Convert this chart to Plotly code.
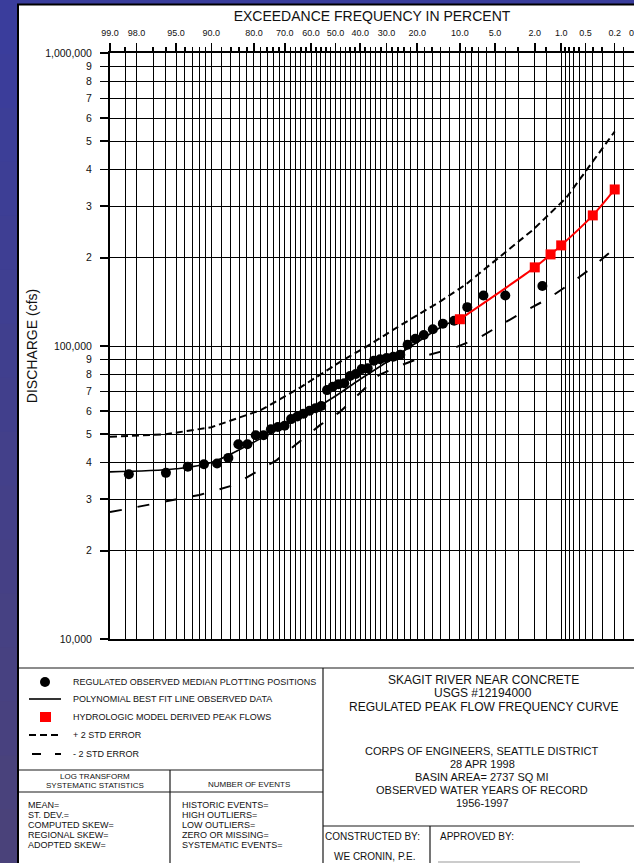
import plotly.graph_objects as go
from statistics import NormalDist

# ---------------- data ----------------
# observed (regulated) peaks, median plotting positions: exceedance % and discharge cfs
obs_exceed = [1.65, 4.01, 6.37, 8.73, 11.08, 13.44, 15.80, 18.16, 20.52, 22.88,
              25.24, 27.59, 29.95, 32.31, 34.67, 37.03, 39.39, 41.75, 44.10, 46.46,
              48.82, 51.18, 53.54, 55.90, 58.25, 60.61, 62.97, 65.33, 67.69, 70.05,
              72.41, 74.76, 77.12, 79.48, 81.84, 84.20, 86.56, 88.92, 91.27, 93.63,
              95.99, 98.35]
obs_flow = [160300, 148800, 148800, 135700, 122000, 119200, 114000, 109100, 105900, 101000,
            93400, 91900, 91000, 90100, 89100, 83900, 83400, 80200, 79000, 74600,
            74000, 72600, 70700, 62400, 61300, 60100, 58700, 57500, 56300, 53400,
            52900, 52000, 49600, 49600, 46200, 46200, 41500, 39700, 39500, 38700,
            36900, 36500]

# polynomial best fit line (observed data)
fit_exceed = [99, 95, 90, 80, 70, 60, 50, 40, 30, 20, 13, 10]
fit_flow = [37200, 38100, 40000, 47000, 53500, 60000, 67500, 77000, 88000, 103000, 118000, 123400]

# hydrologic model derived peak flows
model_exceed = [10, 2, 1.333, 1, 0.4, 0.2]
model_flow = [123400, 185500, 205400, 220500, 279100, 342200]

# + 2 std error
upper_exceed = [99, 96, 90, 78, 64, 48, 37.5, 25, 14, 9, 4.5, 2.1, 0.87, 0.2]
upper_flow = [49000, 50000, 52800, 60400, 72400, 88400, 99500, 118000, 142000, 162000,
              201900, 249000, 320300, 539700]

# - 2 std error
lower_exceed = [99, 92, 85.4, 72.8, 56.4, 48.2, 32.8, 24.8, 17.3, 11.3, 7.2, 4.43, 2.62,
                1.45, 0.8, 0.43, 0.23]
lower_flow = [27100, 31000, 33500, 40800, 53700, 59600, 79500, 86100, 92900, 98200, 105900,
              117900, 131000, 144500, 162300, 183300, 209500]

# axis ticks
major_pct = [99, 98, 95, 90, 80, 70, 60, 50, 40, 30, 20, 10, 5, 2, 1, 0.5, 0.2]
major_lbl = ["99.0", "98.0", "95.0", "90.0", "80.0", "70.0", "60.0", "50.0", "40.0", "30.0",
             "20.0", "10.0", "5.0", "2.0", "1.0", "0.5", "0.2"]
minor_pct = [98.5, 97, 96, 94, 93, 92, 91, 88, 86, 84, 82, 78, 76, 74, 72, 68, 66, 64, 62,
             58, 56, 54, 52, 48, 46, 44, 42, 38, 36, 34, 32, 28, 26, 24, 22, 18, 16, 14, 12,
             9, 8, 7, 6, 4, 3, 1.5, 0.9, 0.8, 0.7, 0.6, 0.4, 0.3, 0.15]
y_ticks = [10000, 20000, 30000, 40000, 50000, 60000, 70000, 80000, 90000,
           100000, 200000, 300000, 400000, 500000, 600000, 700000, 800000, 900000, 1000000]
y_lbl = ["10,000", "2", "3", "4", "5", "6", "7", "8", "9",
         "100,000", "2", "3", "4", "5", "6", "7", "8", "9", "1,000,000"]

# ---------------- helpers ----------------
ND = NormalDist()


def zq(p):
    """exceedance percent -> standard normal deviate (probability scale)"""
    return ND.inv_cdf(1 - p / 100.0)


FONT = "Liberation Sans, Arial, Helvetica, sans-serif"
W, H = 634, 863
ML, MR, MT, MB = 110, 0, 53, 224
PW, PH = W - ML - MR, H - MT - MB
XL, XR = zq(99), 3.077


def fx(x):
    return (x - ML) / PW


def fy(y):
    return (H - MB - y) / PH


fig = go.Figure()

fig.add_trace(go.Scatter(x=[zq(p) for p in upper_exceed], y=upper_flow, mode="lines",
                         line=dict(color="black", width=2, dash="7px,4px"),
                         hoverinfo="skip", showlegend=False))
fig.add_trace(go.Scatter(x=[zq(p) for p in lower_exceed], y=lower_flow, mode="lines",
                         line=dict(color="black", width=2, dash="12px,16px"),
                         hoverinfo="skip", showlegend=False))
fig.add_trace(go.Scatter(x=[zq(p) for p in fit_exceed], y=fit_flow, mode="lines",
                         line=dict(color="black", width=1.6, shape="spline", smoothing=1.0),
                         hoverinfo="skip", showlegend=False))
fig.add_trace(go.Scatter(x=[zq(p) for p in obs_exceed], y=obs_flow, mode="markers",
                         marker=dict(color="black", size=10, symbol="circle"),
                         hoverinfo="skip", showlegend=False))
fig.add_trace(go.Scatter(x=[zq(p) for p in model_exceed], y=model_flow, mode="lines+markers",
                         line=dict(color="#ff0000", width=2, shape="spline", smoothing=0.8),
                         marker=dict(color="#ff0000", size=10, symbol="square"),
                         hoverinfo="skip", showlegend=False))

shapes = []
# blue backdrop gradient bands
ctop, cbot = (58, 61, 156), (74, 66, 122)
nb = 16
for i in range(nb):
    t = i / (nb - 1)
    c = tuple(int(round(ctop[k] + (cbot[k] - ctop[k]) * t)) for k in range(3))
    shapes.append(dict(type="rect", xref="paper", yref="paper", layer="below",
                       x0=fx(0), x1=fx(W + 5), y0=fy(H * i / nb), y1=fy(H * (i + 1) / nb + 1),
                       line=dict(width=0), fillcolor="rgb(%d,%d,%d)" % c))
# white page with black border
shapes.append(dict(type="rect", xref="paper", yref="paper", layer="below",
                   x0=fx(18), x1=fx(W + 20), y0=fy(4.5), y1=fy(H + 20),
                   line=dict(color="black", width=2), fillcolor="white"))

LC = "#1a1a1a"


def hline(x0, x1, y, w=1.2, c=LC):
    shapes.append(dict(type="line", xref="paper", yref="paper", x0=fx(x0), x1=fx(x1),
                       y0=fy(y), y1=fy(y), line=dict(color=c, width=w)))


def vline(x, y0, y1, w=1.2, c=LC):
    shapes.append(dict(type="line", xref="paper", yref="paper", x0=fx(x), x1=fx(x),
                       y0=fy(y0), y1=fy(y1), line=dict(color=c, width=w)))


hline(19, W, 668)
vline(323, 668, H + 5)
hline(19, 323, 770)
vline(170, 770, H + 5)
hline(19, 323, 792)
hline(323, W, 826)
vline(430, 826, H + 5)
hline(438, 580, 862, w=1, c="#999999")

# legend symbols
shapes.append(dict(type="circle", xref="paper", yref="paper", x0=fx(40), x1=fx(50),
                   y0=fy(677), y1=fy(687), fillcolor="black", line=dict(width=0)))
hline(29, 61, 699, w=1.6, c="black")
shapes.append(dict(type="rect", xref="paper", yref="paper", x0=fx(40), x1=fx(51),
                   y0=fy(712), y1=fy(722), fillcolor="#ff0000", line=dict(width=0)))
for a, b in [(29, 36), (40, 47), (51, 58)]:
    hline(a, b, 735, w=2, c="black")
for a, b in [(32, 41), (55, 61)]:
    hline(a, b, 754, w=2, c="black")

ann = []


def text(x, y, s, size=9, anchor="left"):
    ann.append(dict(xref="paper", yref="paper", x=fx(x), y=fy(y), text=s, showarrow=False,
                    xanchor=anchor, yanchor="middle",
                    font=dict(family=FONT, size=size, color="#111111")))


text(71, 682, "REGULATED OBSERVED MEDIAN PLOTTING POSITIONS")
text(71, 699, "POLYNOMIAL BEST FIT LINE OBSERVED DATA")
text(71, 717, "HYDROLOGIC MODEL DERIVED PEAK FLOWS")
text(71, 735, "+ 2 STD ERROR")
text(71, 754, "- 2 STD ERROR")

text(95, 776, "LOG TRANSFORM", 8, "center")
text(95, 785, "SYSTEMATIC STATISTICS", 8, "center")
text(249, 784, "NUMBER OF EVENTS", 8, "center")
for i, s in enumerate(["MEAN=", "ST. DEV.=", "COMPUTED SKEW=", "REGIONAL SKEW=", "ADOPTED SKEW="]):
    text(26, 805 + 10 * i, s)
for i, s in enumerate(["HISTORIC EVENTS=", "HIGH OUTLIERS=", "LOW OUTLIERS=",
                       "ZERO OR MISSING=", "SYSTEMATIC EVENTS="]):
    text(180, 805 + 10 * i, s)

text(483, 680, "SKAGIT RIVER NEAR CONCRETE", 12, "center")
text(483, 693.5, "USGS #12194000", 12, "center")
text(483, 707, "REGULATED PEAK FLOW FREQUENCY CURVE", 12, "center")
text(482, 751, "CORPS OF ENGINEERS, SEATTLE DISTRICT", 11, "center")
text(482, 764, "28 APR 1998", 11, "center")
text(482, 777, "BASIN AREA= 2737 SQ MI", 11, "center")
text(482, 790, "OBSERVED WATER YEARS OF RECORD", 11, "center")
text(482, 803, "1956-1997", 11, "center")
text(372, 836, "CONSTRUCTED BY:", 10, "center")
text(438, 836, "APPROVED BY:", 10, "left")
text(375, 856, "WE CRONIN, P.E.", 10, "center")

# clipped 0.1 tick label at the right edge
ann.append(dict(xref="paper", yref="paper", x=(zq(0.1) - XL) / (XR - XL), y=fy(32.5),
                text="0.1", showarrow=False, xanchor="center", yanchor="middle",
                font=dict(family=FONT, size=9, color="#111111")))

GRID = "#000000"
fig.update_layout(
    width=W, height=H,
    margin=dict(l=ML, r=MR, t=MT, b=MB, pad=0),
    paper_bgcolor="rgb(62,62,150)",
    plot_bgcolor="rgba(0,0,0,0)",
    font=dict(family=FONT, color="#111111"),
    showlegend=False,
    hovermode=False,
    shapes=shapes,
    annotations=ann,
    xaxis=dict(
        range=[XL, XR], side="top", tickmode="array",
        tickvals=[zq(p) for p in major_pct], ticktext=major_lbl,
        ticks="outside", ticklen=8, tickwidth=1.5, tickcolor="black",
        tickfont=dict(size=9, family=FONT, color="#111111"), ticklabelstandoff=3,
        showgrid=True, gridcolor=GRID, gridwidth=1,
        showline=True, linecolor="black", linewidth=2, mirror=True, zeroline=False,
        minor=dict(tickmode="array", tickvals=[zq(p) for p in minor_pct],
                   ticks="outside", ticklen=4, tickwidth=1.5, tickcolor="black",
                   showgrid=True, gridcolor=GRID, gridwidth=1),
        title=dict(text="EXCEEDANCE FREQUENCY IN PERCENT", standoff=4,
                   font=dict(size=14, family=FONT, color="#111111")),
        fixedrange=True,
    ),
    yaxis=dict(
        type="log", range=[4, 6], tickmode="array", tickvals=y_ticks, ticktext=y_lbl,
        ticks="outside", ticklen=8, tickwidth=1.5, tickcolor="black",
        tickfont=dict(size=10.5, family=FONT, color="#111111"), ticklabelstandoff=6,
        showgrid=True, gridcolor=GRID, gridwidth=1,
        showline=True, linecolor="black", linewidth=2, zeroline=False,
        title=dict(text="DISCHARGE (cfs)", standoff=4,
                   font=dict(size=14, family=FONT, color="#111111")),
        fixedrange=True,
    ),
)

fig.write_html("out.html",
               config={"displayModeBar": False, "staticPlot": True},
               post_script="document.body.style.margin='0px';"
                           "document.body.style.overflow='hidden';")
